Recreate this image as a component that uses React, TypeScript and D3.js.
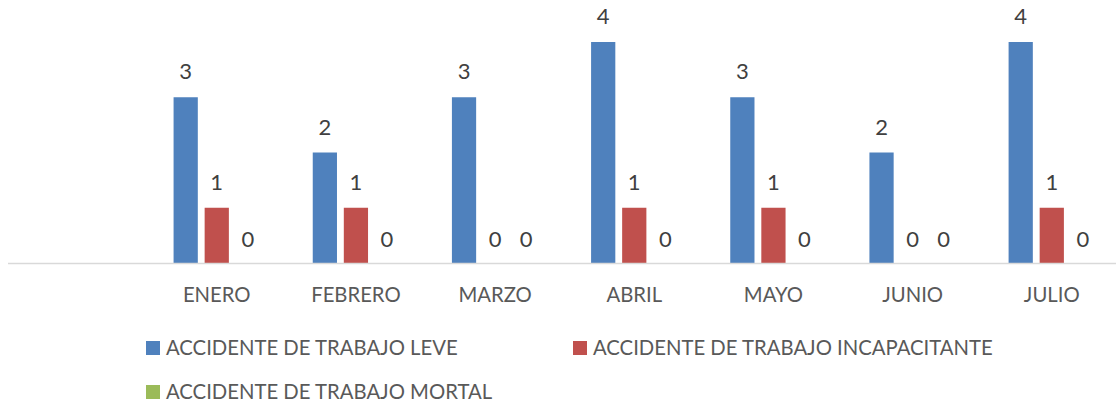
import React from "react";
import * as d3 from "d3";

const categories = ["", "ENERO", "FEBRERO", "MARZO", "ABRIL", "MAYO", "JUNIO", "JULIO"];
const seriesNames = [
  "ACCIDENTE DE TRABAJO LEVE",
  "ACCIDENTE DE TRABAJO INCAPACITANTE",
  "ACCIDENTE DE TRABAJO MORTAL",
];
const leve = [null, 3, 2, 3, 4, 3, 2, 4];
const incapacitante = [null, 1, 1, 0, 1, 1, 0, 1];
const mortal = [null, 0, 0, 0, 0, 0, 0, 0];
const colors = ["#4F81BD", "#C0504D", "#9BBB59"];

const W = 1116;
const H = 406;
const FONT = "Lato, 'Open Sans', sans-serif";

export default function App() {
  const seriesValues = [leve, incapacitante, mortal];
  const x = d3.scaleBand<string>().domain(categories).range([8, 8 + 8 * 139.17]).padding(0);
  const xi = d3
    .scaleBand<string>()
    .domain(seriesNames)
    .range([0, x.bandwidth()])
    .paddingInner(0.22)
    .paddingOuter(0.85);
  const y = d3.scaleLinear().domain([0, 4]).range([263, 42]);

  const legendItems = [
    { name: seriesNames[0], color: colors[0], sx: 146, tx: 166, cy: 348 },
    { name: seriesNames[1], color: colors[1], sx: 573, tx: 593, cy: 348 },
    { name: seriesNames[2], color: colors[2], sx: 146, tx: 166, cy: 392 },
  ];

  return (
    <div style={{ position: "fixed", left: 0, top: 0 }}>
      <svg width={W} height={H} style={{ display: "block", background: "#fff" }}>
        <rect x={0} y={0} width={W} height={H} fill="#fff" />
        {categories.map((c, ci) => (
          <g key={"g" + ci} transform={`translate(${x(c)},0)`}>
            {seriesValues.map((vals, si) => {
              const v = vals[ci];
              if (v === null || v === undefined) return null;
              const bx = xi(seriesNames[si])!;
              const bw = xi.bandwidth();
              return (
                <g key={si}>
                  {v > 0 && (
                    <rect x={bx} y={y(v)} width={bw} height={y(0) - y(v)} fill={colors[si]} />
                  )}
                  <text
                    x={bx + bw / 2}
                    y={y(v) - (v > 0 ? 18 : 16)}
                    textAnchor="middle"
                    fontFamily={FONT}
                    fontSize={22}
                    fill="#404040"
                  >
                    {v}
                  </text>
                </g>
              );
            })}
          </g>
        ))}
        <line x1={8} x2={W} y1={263.5} y2={263.5} stroke="#d9d9d9" strokeWidth={1.3} />
        {categories.map((c, ci) =>
          c ? (
            <text
              key={"l" + ci}
              x={x(c)! + x.bandwidth() / 2}
              y={302}
              textAnchor="middle"
              fontFamily={FONT}
              fontSize={20.3}
              fill="#595959"
            >
              {c}
            </text>
          ) : null
        )}
        {legendItems.map((it) => (
          <g key={it.name}>
            <rect x={it.sx} y={it.cy - 7} width={14} height={14} fill={it.color} />
            <text
              x={it.tx}
              y={it.cy + 7}
              fontFamily={FONT}
              fontSize={20.3}
              fill="#595959"
            >
              {it.name}
            </text>
          </g>
        ))}
      </svg>
    </div>
  );
}
